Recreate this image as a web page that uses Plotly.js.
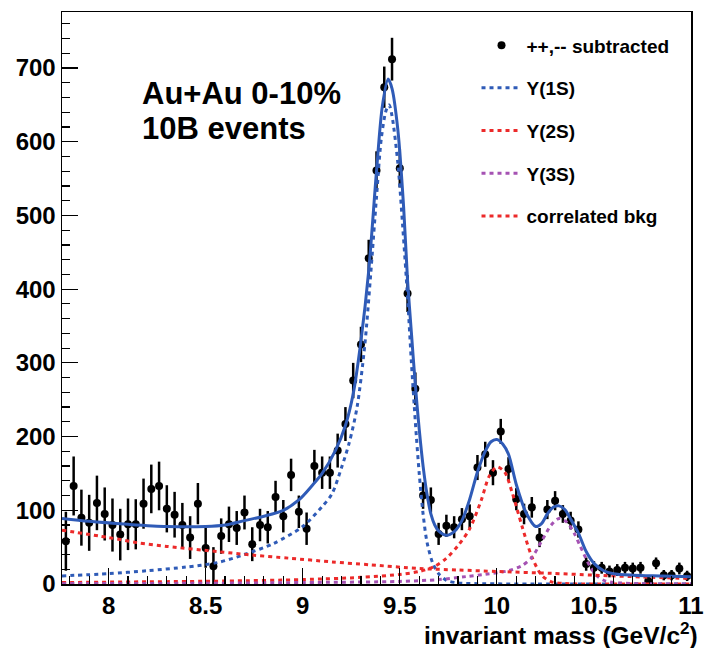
<!DOCTYPE html>
<html>
<head>
<meta charset="utf-8">
<script src="https://cdn.plot.ly/plotly-3.0.1.min.js"></script>
<style>
  html, body { margin: 0; padding: 0; background: #fff; }
  #chart { width: 709px; height: 648px; }
</style>
</head>
<body>
<div id="chart"></div>
<script>
// Dimuon invariant-mass spectrum, like-sign subtracted (bins of 0.04 GeV/c^2)
const massBins = [
  7.78, 7.82, 7.86, 7.90, 7.94, 7.98, 8.02, 8.06, 8.10, 8.14,
  8.18, 8.22, 8.26, 8.30, 8.34, 8.38, 8.42, 8.46, 8.50, 8.54,
  8.58, 8.62, 8.66, 8.70, 8.74, 8.78, 8.82, 8.86, 8.90, 8.94,
  8.98, 9.02, 9.06, 9.10, 9.14, 9.18, 9.22, 9.26, 9.30, 9.34,
  9.38, 9.42, 9.46, 9.50, 9.54, 9.58, 9.62, 9.66, 9.70, 9.74,
  9.78, 9.82, 9.86, 9.90, 9.94, 9.98, 10.02, 10.06, 10.10, 10.14,
  10.18, 10.22, 10.26, 10.30, 10.34, 10.38, 10.42, 10.46, 10.50, 10.54,
  10.58, 10.62, 10.66, 10.70, 10.74, 10.78, 10.82, 10.86, 10.90, 10.94,
  10.98
];
const counts = [
  58, 133, 90, 83, 110, 95, 80, 67, 81, 81,
  109, 129, 133, 102, 94, 80, 63, 109, 49, 24,
  65, 81, 76, 97, 54, 80, 77, 118, 92, 148,
  98, 75, 160, 151, 151, 181, 217, 276, 325, 442,
  561, 674, 712, 564, 394, 265, 120, 114, 68, 79,
  77, 88, 92, 158, 176, 151, 207, 156, 115, 95,
  104, 63, 101, 113, 95, 86, 74, 27, 22, 22,
  17, 19, 22, 21, 22, 4, 28, 12, 12, 21,
  11
];
const countErrors = [
  40, 40, 38, 38, 37, 36, 36, 35, 35, 34,
  34, 33, 33, 32, 31, 30, 29, 28, 27, 26,
  24, 24, 23, 23, 23, 22, 22, 22, 22, 22,
  22, 22, 22, 22, 22, 23, 23, 24, 24, 25,
  26, 28, 29, 26, 25, 22, 18, 17, 15, 15,
  15, 15, 16, 17, 17, 17, 17, 16, 15, 14,
  14, 13, 13, 13, 12, 12, 11, 9, 9, 8,
  8, 8, 8, 8, 8, 7, 8, 7, 7, 8,
  7
];

// Fit components sampled along the mass axis
const totalMass = [7.76, 7.9, 8.1, 8.3, 8.5, 8.6, 8.7, 8.8, 8.9, 8.98, 9.05, 9.1, 9.17, 9.22, 9.26, 9.30, 9.34, 9.38, 9.41, 9.44, 9.46, 9.49, 9.52, 9.54, 9.56, 9.58, 9.60, 9.62, 9.64, 9.66, 9.68, 9.70, 9.74, 9.78, 9.82, 9.86, 9.90, 9.94, 9.97, 10.00, 10.03, 10.06, 10.10, 10.15, 10.20, 10.23, 10.26, 10.29, 10.32, 10.35, 10.38, 10.42, 10.46, 10.50, 10.55, 10.60, 10.70, 10.85, 11.0];
const totalFit  = [89, 85, 81, 78, 78, 80, 86, 92, 100, 114, 134, 150, 182, 215, 258, 330, 425, 560, 648, 685, 672, 616, 510, 412, 340, 270, 210, 160, 122, 95, 80, 72, 66, 71, 86, 115, 152, 180, 193, 196, 190, 176, 135, 97, 78, 82, 95, 104, 106, 101, 88, 69, 44, 28, 18, 14, 12, 11, 10];

const ups1SMass = [7.76, 8.0, 8.2, 8.4, 8.56, 8.7, 8.85, 9.0, 9.1, 9.15, 9.2, 9.24, 9.28, 9.32, 9.35, 9.38, 9.405, 9.43, 9.445, 9.46, 9.49, 9.515, 9.54, 9.56, 9.58, 9.60, 9.62, 9.64, 9.67, 9.70, 9.74, 9.80, 9.90, 10.2, 11.0];
const ups1S     = [11, 14, 18, 23, 29, 40, 55, 78, 105, 122, 158, 192, 240, 325, 420, 525, 605, 643, 650, 635, 571, 485, 389, 300, 220, 150, 95, 57, 28, 14, 5, 1.5, 0.5, 0, 0];

const ups2SMass = [7.76, 8.2, 8.6, 9.0, 9.3, 9.5, 9.6, 9.68, 9.74, 9.80, 9.86, 9.92, 9.96, 10.00, 10.04, 10.08, 10.13, 10.18, 10.23, 10.28, 10.35, 10.45, 11.0];
const ups2S     = [2, 3, 4, 6, 9, 13, 17, 24, 35, 52, 75, 114, 146, 159, 152, 123, 78, 37, 12, 3, 0.6, 0.1, 0];

const ups3SMass = [7.76, 8.5, 9.0, 9.5, 9.7, 9.84, 9.94, 10.06, 10.13, 10.18, 10.23, 10.28, 10.32, 10.36, 10.40, 10.43, 10.48, 10.52, 10.56, 10.63, 10.75, 11.0];
const ups3S     = [0.5, 1, 2, 3.5, 6, 10, 13, 18, 25, 36, 58, 80, 89, 84, 68, 51, 24, 10, 4, 1.5, 0.3, 0];

const bkgMass = [7.76, 8.0, 8.15, 8.3, 8.56, 8.75, 8.93, 9.15, 9.35, 9.6, 9.8, 10.0, 10.28, 10.5, 10.75, 11.0];
const corrBkg = [73, 63, 56, 51, 44, 39, 35, 30, 26, 21, 19, 17, 14.5, 12, 9.5, 7.5];

const legendNames = ['++,-- subtracted', '\u03A5(1S)', '\u03A5(2S)', '\u03A5(3S)', 'correlated bkg'];

const BLUE = '#2f5bb7';
const RED = '#ec2a2a';
const PURPLE = '#a552b3';
const BOLD = {family: 'Liberation Sans, Arial, sans-serif', weight: 'bold', color: '#000'};
const DOTS = '4px,4px';

function dotted(x, y, name, color, group) {
  return {
    x: x, y: y, name: name, type: 'scatter', mode: 'lines',
    line: {color: color, width: 3, dash: DOTS, shape: 'spline', smoothing: 0.8},
    legendgroup: group, hoverinfo: 'skip'
  };
}

const traces = [
  {
    x: massBins, y: counts, name: legendNames[0], type: 'scatter', mode: 'markers',
    marker: {color: '#000', size: 8},
    error_y: {type: 'data', array: countErrors, visible: true, color: '#000', thickness: 2.5, width: 0},
    legendgroup: 'g0'
  },
  dotted(ups1SMass, ups1S, legendNames[1], BLUE, 'g1'),
  dotted(ups2SMass, ups2S, legendNames[2], RED, 'g2'),
  dotted(ups3SMass, ups3S, legendNames[3], PURPLE, 'g3'),
  dotted(bkgMass, corrBkg, legendNames[4], RED, 'g4'),
  {
    x: totalMass, y: totalFit, type: 'scatter', mode: 'lines', showlegend: false,
    line: {color: BLUE, width: 3, shape: 'spline', smoothing: 0.8}, hoverinfo: 'skip'
  }
];

const layout = {
  width: 709, height: 648,
  margin: {l: 62, r: 18, t: 12, b: 64},
  paper_bgcolor: '#fff', plot_bgcolor: '#fff',
  font: {family: 'Liberation Sans, Arial, sans-serif', color: '#000'},
  showlegend: true,
  legend: {
    x: 0.659, y: 0.975, xanchor: 'left', yanchor: 'top',
    bgcolor: 'rgba(0,0,0,0)', borderwidth: 0,
    traceorder: 'grouped', tracegroupgap: 15, itemwidth: 40,
    font: Object.assign({}, BOLD, {size: 19})
  },
  xaxis: {
    range: [7.76, 11.0], tick0: 8, dtick: 0.5,
    showgrid: false, zeroline: false,
    showline: true, mirror: true, linecolor: '#000', linewidth: 1.5,
    ticks: 'inside', ticklen: 16, tickwidth: 1.2, tickcolor: '#000',
    minor: {ticks: 'inside', ticklen: 8, dtick: 0.1, tickcolor: '#000', tickwidth: 1.2, showgrid: false},
    tickfont: Object.assign({}, BOLD, {size: 24})
  },
  yaxis: {
    range: [0, 776], tick0: 0, dtick: 100,
    showgrid: false, zeroline: false,
    showline: true, mirror: true, linecolor: '#000', linewidth: 1.5,
    ticks: 'inside', ticklen: 16, tickwidth: 1.2, tickcolor: '#000',
    minor: {ticks: 'inside', ticklen: 8, dtick: 20, tickcolor: '#000', tickwidth: 1.2, showgrid: false},
    tickfont: Object.assign({}, BOLD, {size: 24})
  },
  annotations: [
    {
      text: 'Au+Au 0-10%', xref: 'paper', yref: 'paper', x: 0.124, y: 0.858,
      xanchor: 'left', yanchor: 'middle', showarrow: false,
      font: Object.assign({}, BOLD, {size: 31})
    },
    {
      text: '10B events', xref: 'paper', yref: 'paper', x: 0.124, y: 0.797,
      xanchor: 'left', yanchor: 'middle', showarrow: false,
      font: Object.assign({}, BOLD, {size: 31})
    },
    {
      text: 'invariant mass (GeV/c<sup>2</sup>)', xref: 'paper', yref: 'paper', x: 1.014, y: -0.087,
      xanchor: 'right', yanchor: 'middle', showarrow: false,
      font: Object.assign({}, BOLD, {size: 24.5})
    }
  ]
};

Plotly.newPlot('chart', traces, layout, {staticPlot: true, displayModeBar: false});
</script>
</body>
</html>
